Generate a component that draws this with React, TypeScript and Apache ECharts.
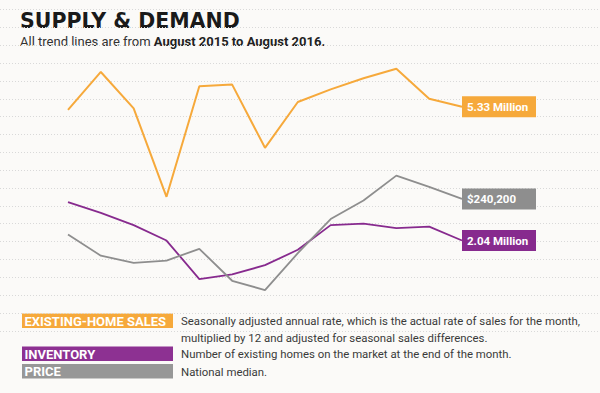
import React, { useEffect, useRef } from "react";
import * as echarts from "echarts";

const months = ["Aug 2015", "Sep 2015", "Oct 2015", "Nov 2015", "Dec 2015", "Jan 2016", "Feb 2016", "Mar 2016", "Apr 2016", "May 2016", "Jun 2016", "Jul 2016", "Aug 2016"];
const homeSales = [5.31, 5.55, 5.32, 4.76, 5.46, 5.47, 5.07, 5.36, 5.44, 5.51, 5.57, 5.38, 5.33];
const inventory = [2.29, 2.22, 2.14, 2.04, 1.79, 1.82, 1.88, 1.98, 2.14, 2.15, 2.12, 2.13, 2.04];
const price = [228700, 221900, 219600, 220300, 224100, 213800, 210800, 222700, 233700, 239700, 247700, 244100, 240200];

const endLabels = ["5.33 Million", "2.04 Million", "$240,200"];
const legendNames = ["EXISTING-HOME SALES", "INVENTORY", "PRICE"];
const legendNotes = [
  "Seasonally adjusted annual rate, which is the actual rate of sales for the month,",
  "multiplied by 12 and adjusted for seasonal sales differences.",
  "Number of existing homes on the market at the end of the month.",
  "National median.",
];

const ORANGE = "#f6a93b";
const PURPLE = "#872a8e";
const GRAY = "#8e8e8e";
const FONT = "Roboto, 'Noto Sans', sans-serif";

export default function App() {
  const ref = useRef<HTMLDivElement>(null);
  useEffect(() => {
    document.body.style.margin = "0";
    const chart = echarts.init(ref.current!, null, { renderer: "svg" });
    const endLabel = (text: string, bg: string) => ({
      show: true,
      formatter: () => text,
      backgroundColor: bg,
      color: "#fff",
      fontFamily: FONT,
      fontWeight: "bold",
      fontSize: 11.5,
      lineHeight: 13,
      padding: [4, 0, 4, 5],
      width: 69,
      distance: 0,
      align: "left",
    });
    const legendBoxes: any[] = [];
    const boxY = [313.5, 346.5, 364];
    const boxColors = [ORANGE, "#8d3192", "#979797"];
    legendNames.forEach((n, i) => {
      legendBoxes.push({
        type: "rect",
        shape: { x: 22, y: boxY[i], width: 151, height: 14.5 },
        style: { fill: boxColors[i] },
      });
      legendBoxes.push({
        type: "text",
        style: {
          x: 24.5, y: boxY[i] + 7.5, text: n, fill: "#fff",
          font: `bold 13px ${FONT}`, verticalAlign: "middle",
        },
      });
    });
    const noteY = [320.5, 338, 354, 372];
    legendNotes.forEach((t, i) => {
      legendBoxes.push({
        type: "text",
        style: { x: 181, y: noteY[i], text: t, fill: "#3a3a3a", font: `11.4px ${FONT}`, verticalAlign: "middle" },
      });
    });
    chart.setOption({
      animation: false,
      backgroundColor: "#fbfaf8",
      grid: [
        { left: 68, right: 138, top: 50, bottom: 93 },
        { left: 0, right: 0, top: 9.5, height: 321.3 },
      ],
      xAxis: [
        { type: "category", gridIndex: 0, data: months, boundaryGap: false, show: false },
        { type: "value", gridIndex: 1, show: false, min: 0, max: 1 },
      ],
      yAxis: [
        { type: "value", gridIndex: 0, show: false, min: 4.107, max: 5.689 },
        { type: "value", gridIndex: 0, show: false, min: 1.654, max: 3.277 },
        { type: "value", gridIndex: 0, show: false, min: 207600, max: 288200 },
        {
          type: "value", gridIndex: 1, min: 0, max: 18, interval: 1,
          axisLine: { show: false }, axisTick: { show: false }, axisLabel: { show: false },
          splitLine: { show: true, lineStyle: { color: "#d9d9d9", type: [1, 2], width: 1 } },
        },
      ],
      graphic: [
        {
          type: "text",
          style: { x: 20, y: 20.5, text: "SUPPLY & DEMAND", fill: "#1a1a1a", font: `bold 20.5px 'DejaVu Sans', sans-serif`, verticalAlign: "middle" },
        },
        {
          type: "text",
          style: {
            x: 20, y: 41,
            text: "{a|All trend lines are from }{b|August 2015 to August 2016.}",
            verticalAlign: "middle",
            rich: {
              a: { fontFamily: FONT, fontSize: 13, fill: "#333", color: "#333" },
              b: { fontFamily: FONT, fontSize: 13, fontWeight: "bold", fill: "#222", color: "#222" },
            },
          },
        },
        ...legendBoxes,
      ],
      series: [
        {
          type: "line", name: "Existing-home sales", data: homeSales, xAxisIndex: 0, yAxisIndex: 0,
          symbol: "none", lineStyle: { color: ORANGE, width: 2 }, itemStyle: { color: ORANGE },
          endLabel: endLabel(endLabels[0], ORANGE),
        },
        {
          type: "line", name: "Inventory", data: inventory, xAxisIndex: 0, yAxisIndex: 1,
          symbol: "none", lineStyle: { color: PURPLE, width: 1.8 }, itemStyle: { color: PURPLE },
          endLabel: endLabel(endLabels[1], PURPLE),
        },
        {
          type: "line", name: "Price", data: price, xAxisIndex: 0, yAxisIndex: 2,
          symbol: "none", lineStyle: { color: GRAY, width: 1.8 }, itemStyle: { color: GRAY },
          endLabel: endLabel(endLabels[2], GRAY),
        },
      ],
    });
    return () => chart.dispose();
  }, []);
  return <div ref={ref} style={{ width: 600, height: 393 }} />;
}
